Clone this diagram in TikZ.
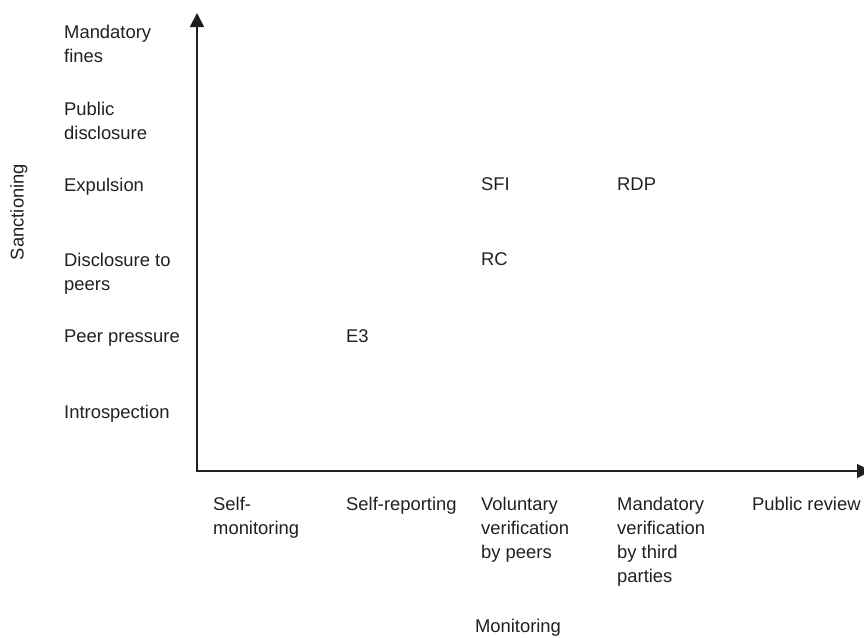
\documentclass[tikz,border=0pt]{standalone}
\usepackage{fontspec}
\setmainfont{Liberation Sans}
\usetikzlibrary{arrows.meta}
\definecolor{ink}{HTML}{231F20}
\begin{document}
\begin{tikzpicture}[x=1pt,y=-1pt,
  lbl/.style={anchor=north west,inner sep=0pt,align=left,text=ink,
    font=\fontsize{18.4}{24}\selectfont},
  axis/.style={draw=ink,line width=1.8pt,line join=miter,
    {Triangle[length=14pt,width=14pt]}-{Triangle[length=14pt,width=14pt]}}]
\useasboundingbox (0,0) rectangle (864,637);

% axes
\coordinate (O) at (197,471);
\coordinate (ytip) at (197,13);
\coordinate (xtip) at (871,471);
\draw[axis] (ytip) -- (O) -- (xtip);

% sanctioning levels
\node[lbl] (s1) at (64,24.5) {Mandatory\\fines};
\node[lbl] (s2) at (64,101.5) {Public\\disclosure};
\node[lbl] (s3) at (64,177.5) {Expulsion};
\node[lbl] (s4) at (64,252.5) {Disclosure to\\peers};
\node[lbl] (s5) at (64,329.5) {Peer pressure};
\node[lbl] (s6) at (64,404.5) {Introspection};

% monitoring levels
\node[lbl] (m1) at (213,496.5) {Self-\\monitoring};
\node[lbl] (m2) at (346,496.5) {Self-reporting};
\node[lbl] (m3) at (481,496.5) {Voluntary\\verification\\by peers};
\node[lbl] (m4) at (617,496.5) {Mandatory\\verification\\by third\\parties};
\node[lbl] (m5) at (752,496.5) {Public review};

% schemes
\node[lbl] (sfi) at (481,177.5) {SFI};
\node[lbl] (rdp) at (617,177.5) {RDP};
\node[lbl] (rc) at (481,252.5) {RC};
\node[lbl] (e3) at (346,329.5) {E3};

% axis titles
\node[lbl,anchor=north] (mon) at (518,618.5) {Monitoring};
\node[lbl,anchor=north,rotate=90] (san) at (10,212) {Sanctioning};
\end{tikzpicture}
\end{document}
